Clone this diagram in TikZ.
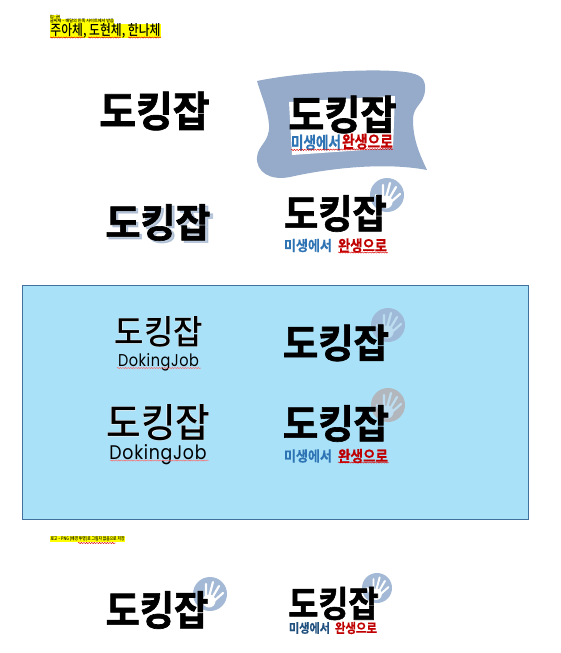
\documentclass[tikz,border=0pt]{standalone}
\usepackage{fontspec}
\usepackage{graphicx}
\usetikzlibrary{decorations.pathmorphing}
\setmainfont{Noto Sans CJK KR}
\newfontfamily\krb[FakeBold=1.6]{Noto Sans CJK KR Bold}
\newfontfamily\krm{Noto Sans CJK KR Medium}
\newfontfamily\krh{Noto Sans CJK KR Bold}
\newfontfamily\krs[FakeBold=.6]{Noto Sans CJK KR Bold}
\newfontfamily\krw[FakeBold=3]{Noto Sans CJK KR Bold}
\newfontfamily\latinthin[LetterSpace=4]{Poppins}
\definecolor{boxfill}{HTML}{A9E1F8}
\definecolor{boxline}{HTML}{41719C}
\definecolor{blob}{HTML}{95ABC9}
\definecolor{markblue}{HTML}{A3B9D5}
\definecolor{panelmark}{HTML}{9FBAD8}
\definecolor{panelhand}{HTML}{BCDDF0}
\definecolor{panelgray}{HTML}{B2B7BE}
\definecolor{subblue}{HTML}{2E74B5}
\definecolor{subred}{HTML}{C00000}
\definecolor{hilite}{HTML}{FFFF00}
\tikzset{
  txt/.style={inner sep=0pt,outer sep=0pt},
  wavy/.style={draw=red!85!black,line width=.45pt,decorate,decoration={snake,amplitude=.6,segment length=2.6}},
  hl/.style={fill=hilite,draw=none}
}
% name, cx, cy, w, h
\newcommand\boldlogo[5]{\node[txt] (#1) at (#2,#3) {\pgfmathsetlengthmacro\lw{#4*1.05}\resizebox{\lw}{#5pt}{\krb 도킹잡}};}
\newcommand\thinlogo[5]{%
  \node[txt,white] (#1g) at (#2,#3) {\pgfmathsetlengthmacro\lw{#4*1.05}\resizebox{\lw}{#5pt}{\krh 도킹잡}};
  \node[txt] (#1) at (#2,#3) {\pgfmathsetlengthmacro\lw{#4*1.05}\resizebox{\lw}{#5pt}{\krm 도킹잡}};}
% name, cx, cy, w, h, colour, text
\newcommand\subtext[7]{\node[txt,text=#6] (#1) at (#2,#3) {\resizebox{#4pt}{#5pt}{\krs #7}};}
% cx, cy, r, circle colour, hand colour
\newcommand\handmark[5]{%
  \begin{scope}[shift={(#1,#2)},scale=#3/17]
    \fill[#4] (0,0) circle (17);
    \fill[#5] (-1,7) circle (6.5);
    \draw[#5,line width=#3*.13pt,line cap=round]
      (-4,4) -- (-4,-10) (-1,3) -- (3,-12) (2,4) -- (9,-8) (4,7) -- (13,-1) (-6,9) -- (-11,0);
  \end{scope}}
\begin{document}
\begin{tikzpicture}[x=1pt,y=-1pt]
\useasboundingbox (0,0) rectangle (560,653);
\fill[white] (0,0) rectangle (560,653);

% header
\fill[hl] (50,15) rectangle (60,19);
\fill[hl] (50,19) rectangle (114,24);
\fill[hl] (50,24) rectangle (161,38);
\node[txt] (h1) at (55,17) {\resizebox{10pt}{3.4pt}{\krm 로고 – 글씨}};
\node[txt] (h2) at (82,21.3) {\resizebox{64pt}{3.6pt}{\krm 글씨체 – 배달의 민족 사이트에서 받음}};
\node[txt] (h3) at (105.5,30.5) {\resizebox{110pt}{12pt}{\krm 주아체, 도현체, 한나체}};
\draw[wavy] (50,37.5) -- (84,37.5);
\draw[wavy] (88,37.5) -- (121,37.5);
\draw[wavy] (128,37.5) -- (161,37.5);

% logo 1
\boldlogo{l1}{154.5}{111}{105}{35}

% logo 2 with blob
\fill[blob] (257,81) .. controls (300,72) and (375,68) .. (405,72)
  .. controls (420,74) and (426,78) .. (425,90)
  .. controls (424,105) and (413,105) .. (413,120)
  .. controls (413,140) and (420,155) .. (427,170)
  .. controls (385,162) and (330,168) .. (290,177)
  .. controls (270,181) and (256,172) .. (257,157)
  .. controls (258,145) and (270,142) .. (269,125)
  .. controls (268,110) and (262,98) .. (257,81) -- cycle;
\fill[white] (289,102) -- (395,96) -- (393,148) -- (292,155) -- cycle;
\boldlogo{l2}{342.5}{114.5}{103}{34}
\subtext{l2a}{316}{142.5}{50}{14}{subblue}{미생에서}
\subtext{l2b}{367.5}{141.5}{51}{14}{subred}{완생으로}
\draw[wavy] (291,150) -- (393,149);

% logo 3 with shadow
\node[txt,text=blob,opacity=.6] (l3s) at (160.5,224.5) {\resizebox{106pt}{33pt}{\krw 도킹잡}};
\boldlogo{l3}{158}{222.5}{100}{33}

% logo 4
\handmark{387}{195}{17}{markblue}{white}
\boldlogo{l4}{335.5}{213.5}{98}{33}
\subtext{l4a}{308}{245.5}{48}{12}{subblue}{미생에서}
\subtext{l4b}{362.5}{245.5}{49}{13}{subred}{완생으로}
\draw[wavy] (338,252.5) -- (388,252.5);

% blue panel
\draw[boxline,fill=boxfill,line width=.6pt] (22.5,285.5) rectangle (528.5,519.5);

% logo 5
\thinlogo{l5}{159}{332}{84}{28}
\node[txt] (l5t) at (158.5,362) {\resizebox{81pt}{13pt}{\latinthin DokingJob}};
\draw[wavy,draw=red!60] (117,368) -- (201,368);

% logo 6
\thinlogo{l6}{158.5}{423}{99}{33}
\node[txt] (l6t) at (158,454.5) {\resizebox{97pt}{15pt}{\latinthin DokingJob}};
\draw[wavy,draw=red!60] (110,460.5) -- (209,460.5);

% logo 7
\handmark{388}{325}{17}{panelmark}{panelhand}
\boldlogo{l7}{336}{343}{101}{33}

% logo 8
\handmark{388}{405}{17}{panelgray}{panelhand}
\boldlogo{l8}{336}{423.5}{101}{33}
\subtext{l8a}{308}{456}{48}{12}{subblue}{미생에서}
\subtext{l8b}{363}{456}{50}{13}{subred}{완생으로}
\draw[wavy] (338,462.5) -- (389,462.5);

% bottom note
\fill[hl] (50,536) rectangle (125,542);
\node[txt] (n1) at (87.5,539) {\resizebox{74pt}{4pt}{\krm 로고 – PNG (배경 투명)로 그림자 없음으로 저장}};
\draw[wavy] (78,543) -- (116,543);

% logo 9
\handmark{210}{594}{17}{markblue}{white}
\boldlogo{l9}{157}{610}{98}{34}

% logo 10
\handmark{377}{588}{15}{markblue}{white}
\boldlogo{l10}{333.5}{603.5}{86}{30}
\subtext{l10a}{309.5}{628}{41}{10.5}{subblue!70!black}{미생에서}
\subtext{l10b}{356}{628}{42}{11}{subred}{완생으로}
\end{tikzpicture}
\end{document}
